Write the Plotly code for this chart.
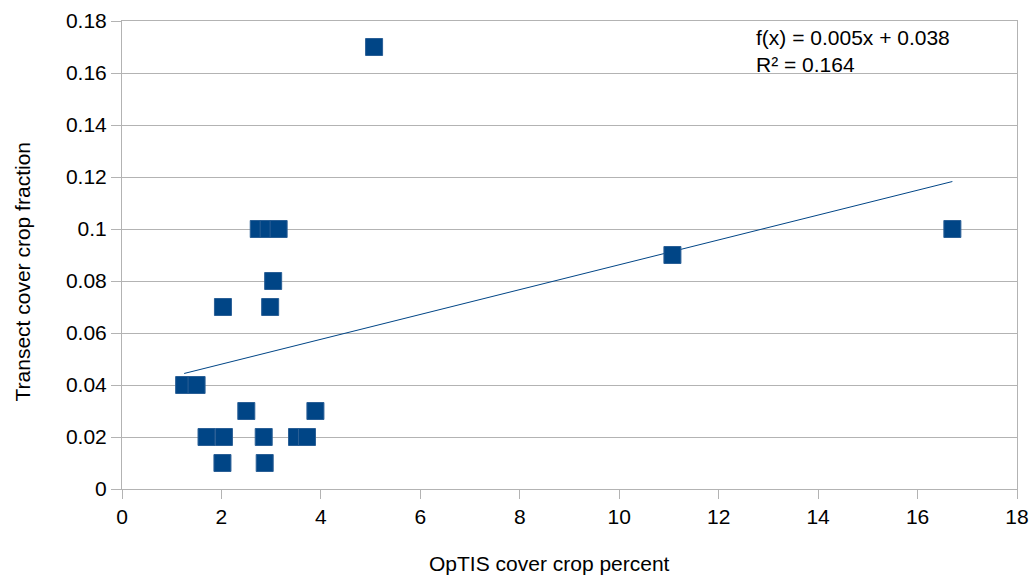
import numpy as np
import plotly.graph_objects as go

# OpTIS cover crop percent vs. transect cover crop fraction
optis_percent = [1.25, 1.50, 1.70, 2.05, 2.02, 2.50, 2.85, 2.87, 3.52, 3.72,
                 3.89, 2.03, 2.98, 3.04, 2.75, 2.95, 3.15, 5.07, 11.07, 16.70]
transect_fraction = [0.04, 0.04, 0.02, 0.02, 0.01, 0.03, 0.02, 0.01, 0.02, 0.02,
                     0.03, 0.07, 0.07, 0.08, 0.10, 0.10, 0.10, 0.17, 0.09, 0.10]

fit_label = "f(x) = 0.005x + 0.038"
r2_label = "R² = 0.164"

x_ticks = list(range(0, 19, 2))
y_ticks = [0, 0.02, 0.04, 0.06, 0.08, 0.1, 0.12, 0.14, 0.16, 0.18]

# least-squares linear trend over the data range
xa = np.array(optis_percent)
ya = np.array(transect_fraction)
slope, intercept = np.polyfit(xa, ya, 1)
trend_x = [xa.min(), xa.max()]
trend_y = [slope * v + intercept for v in trend_x]

BLUE = "#004586"
GRID = "#b3b3b3"
FONT = "Liberation Sans, Arial, sans-serif"

W, H = 1033, 576
L, R, T, B = 122, 16, 21, 87
pw = W - L - R
ph = H - T - B

fig = go.Figure()
fig.add_trace(go.Scatter(
    x=trend_x, y=trend_y, mode="lines",
    line=dict(color=BLUE, width=1), hoverinfo="skip", showlegend=False,
))
fig.add_trace(go.Scatter(
    x=optis_percent, y=transect_fraction, mode="markers",
    marker=dict(symbol="square", size=17, color=BLUE,
                line=dict(color="#2a5f96", width=1)),
    showlegend=False,
))

fig.update_layout(
    width=W, height=H,
    margin=dict(l=L, r=R, t=T, b=B, autoexpand=False),
    paper_bgcolor="white", plot_bgcolor="white",
    font=dict(family=FONT, size=21, color="#000000"),
    xaxis=dict(
        range=[0, 18], tickvals=x_ticks, showgrid=False, zeroline=False,
        automargin=False,
        showline=True, linecolor=GRID, linewidth=1, mirror=True,
        ticks="outside", ticklen=9, tickcolor=GRID, tickwidth=1,
        tickfont=dict(family=FONT, size=21, color="#000000"),
    ),
    yaxis=dict(
        range=[0, 0.18], tickvals=y_ticks, showgrid=True, gridcolor=GRID,
        gridwidth=1, zeroline=False, automargin=False,
        showline=True, linecolor=GRID, linewidth=1, mirror=True,
        ticks="outside", ticklen=10, tickcolor=GRID, tickwidth=1,
        tickfont=dict(family=FONT, size=21, color="#000000"),
    ),
    annotations=[
        dict(text="OpTIS cover crop percent", xref="paper", yref="paper",
             x=(549.5 - L) / pw, y=-(563 - (T + ph)) / ph,
             xanchor="center", yanchor="middle", showarrow=False,
             font=dict(family=FONT, size=21, color="#000000")),
        dict(text="Transect cover crop fraction", xref="paper", yref="paper",
             x=(22 - L) / pw, y=1 - (271.5 - T) / ph, textangle=-90,
             xanchor="center", yanchor="middle", showarrow=False,
             font=dict(family=FONT, size=21, color="#000000")),
        dict(text=fit_label + "<br>" + r2_label, xref="paper", yref="paper",
             x=(754 - L) / pw, y=1 - (24 - T) / ph,
             xanchor="left", yanchor="top", align="left", showarrow=False,
             font=dict(family=FONT, size=21, color="#000000")),
    ],
)

fig.write_html("out.html")
